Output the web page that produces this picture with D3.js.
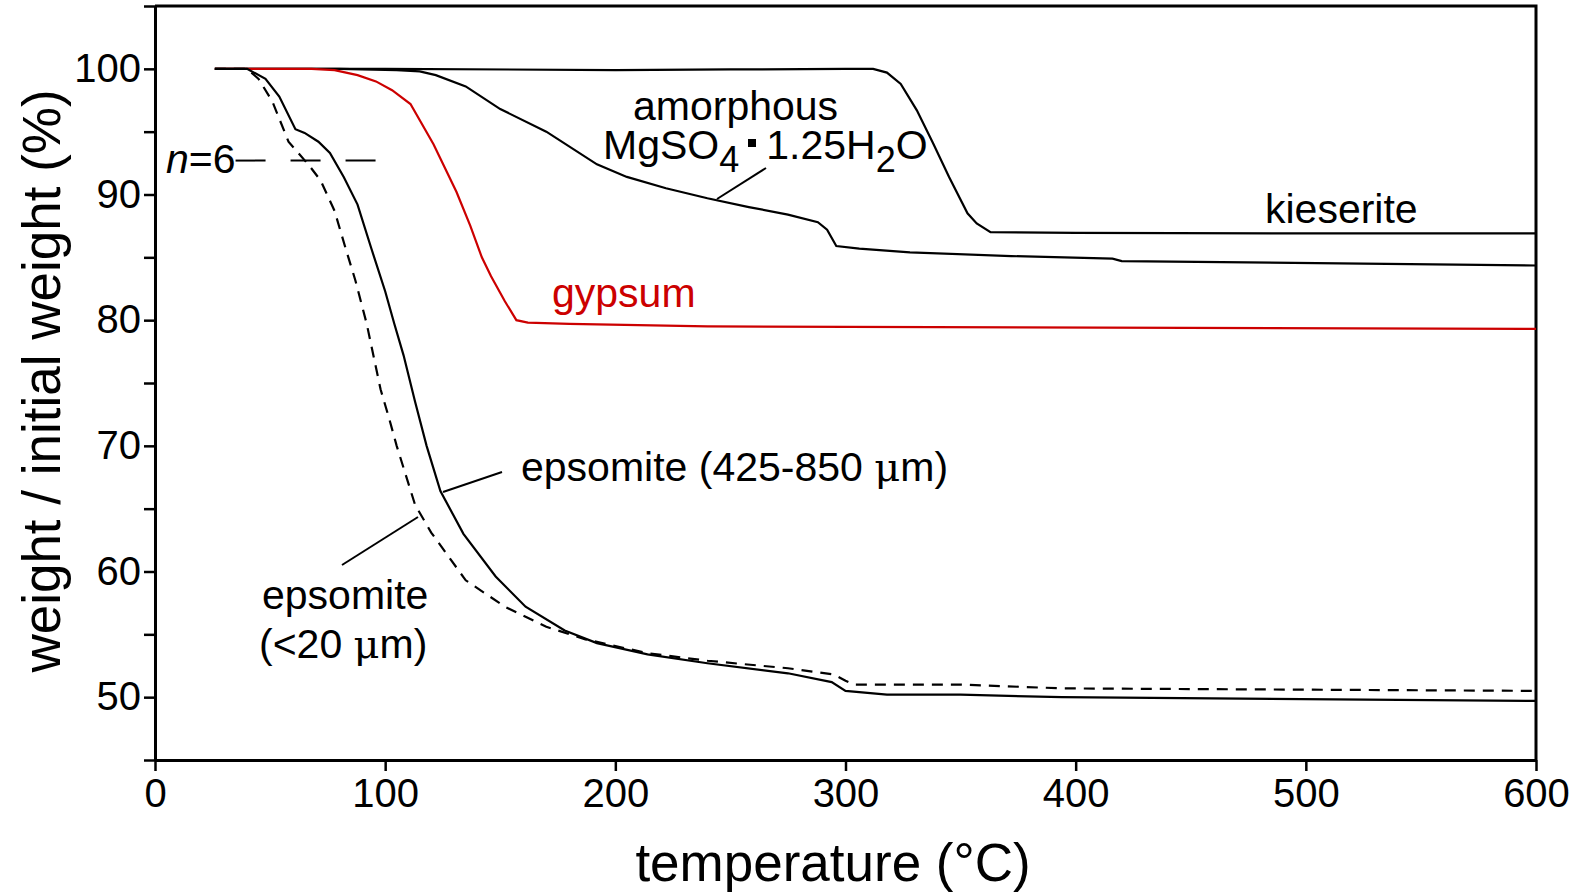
<!DOCTYPE html>
<html>
<head>
<meta charset="utf-8">
<script src="https://cdn.jsdelivr.net/npm/d3@7"></script>
<style>
  html, body { margin: 0; padding: 0; background: #fff; }
  svg { display: block; font-family: "Liberation Sans", Arial, sans-serif; }
</style>
</head>
<body>
<div id="chart"></div>
<script>
// Thermogravimetric curves, temperature (°C) vs weight / initial weight (%)
const kieseriteT = [26, 100, 200, 250, 300, 312, 318, 324, 331, 338, 345, 353, 357, 363, 400, 500, 600];
const kieseriteW = [100, 100, 99.9, 99.95, 100, 100, 99.7, 98.8, 96.7, 94.1, 91.4, 88.5, 87.7, 87.0, 86.95, 86.9, 86.9];

const amorphousT = [26, 80, 105, 115, 122, 135, 150, 170, 192, 205, 222, 240, 258, 275, 288, 292, 296, 306, 328, 372, 416, 420, 600];
const amorphousW = [100, 100, 99.9, 99.8, 99.5, 98.6, 96.8, 95, 92.4, 91.4, 90.5, 89.7, 89, 88.4, 87.8, 87.2, 85.9, 85.7, 85.4, 85.1, 84.9, 84.7, 84.35];

const gypsumT = [26, 68, 78, 88, 96, 103, 111, 121, 131, 137, 142, 146, 152, 157, 162, 180, 240, 600];
const gypsumW = [100, 100, 99.9, 99.5, 99, 98.3, 97.2, 94, 90.2, 87.5, 85, 83.5, 81.5, 80, 79.8, 79.7, 79.5, 79.3];

const epsomiteCoarseT = [26, 40, 48, 54, 61, 65, 71, 76, 82, 88, 94, 100, 104, 108, 113, 118, 124, 134, 148, 161, 178, 192, 214, 240, 275, 294, 300, 318, 350, 394, 600];
const epsomiteCoarseW = [100, 100, 99.2, 97.8, 95.2, 94.9, 94.2, 93.3, 91.4, 89.2, 85.7, 82.3, 79.7, 77.2, 73.5, 70, 66.4, 63, 59.6, 57.2, 55.3, 54.3, 53.4, 52.7, 51.9, 51.2, 50.5, 50.2, 50.2, 50, 49.7];

const epsomiteFineT = [26, 40, 45, 51, 58, 67, 72, 78, 83, 87, 92, 98, 102, 105, 113, 120, 135, 152, 170, 187, 214, 240, 275, 295, 300, 304, 320, 350, 394, 600];
const epsomiteFineW = [100, 100, 99.2, 97.4, 94.2, 92.3, 91.1, 88.7, 85.6, 83.2, 79.7, 74.5, 72, 70, 65.3, 63.1, 59.3, 57.2, 55.6, 54.6, 53.5, 52.9, 52.3, 51.8, 51.3, 51.0, 51.0, 51.0, 50.7, 50.5];

// hexahydrite level (n=6)
const hexahydriteT = [35, 96];
const hexahydriteW = 92.7;

const xTicks = [0, 100, 200, 300, 400, 500, 600];
const yTicks = [45, 50, 55, 60, 65, 70, 75, 80, 85, 90, 95, 100, 105];
const yLabels = [50, 60, 70, 80, 90, 100];

const width = 1585, height = 893;
const plot = { left: 155, right: 1536, top: 6, bottom: 760 };

const svg = d3.select('#chart')
    .append('svg')
    .attr('width', width)
    .attr('height', height);

const x = d3.scaleLinear().domain([0, 600]).range([plot.left, plot.right]);
const y = d3.scaleLinear().domain([45, 105]).range([plot.bottom, plot.top]);

const zip = (ts, ws) => ts.map((t, i) => [t, ws[i]]);
const line = d3.line().x(d => x(d[0])).y(d => y(d[1]));

// Axes
const xAxis = svg.append('g')
    .attr('transform', `translate(0,${plot.bottom})`)
    .call(d3.axisBottom(x).tickValues(xTicks).tickSize(11).tickPadding(8).tickSizeOuter(0));

const yAxis = svg.append('g')
    .attr('transform', `translate(${plot.left},0)`)
    .call(d3.axisLeft(y).tickValues(yTicks).tickSize(11).tickPadding(3).tickSizeOuter(0)
        .tickFormat(d => yLabels.includes(d) ? d : ''));

[xAxis, yAxis].forEach(a => {
    a.select('.domain').attr('stroke', '#000').attr('stroke-width', 3);
    a.selectAll('.tick line').attr('stroke', '#000').attr('stroke-width', 2.5);
    a.selectAll('.tick text')
        .attr('fill', '#000')
        .style('font-family', '"Liberation Sans", Arial, sans-serif')
        .style('font-size', '40px');
});

// Top and right frame
svg.append('path')
    .attr('d', `M${plot.left},${plot.top}H${plot.right}V${plot.bottom}`)
    .attr('fill', 'none')
    .attr('stroke', '#000')
    .attr('stroke-width', 3);

// Curves
const series = [
    { t: kieseriteT, w: kieseriteW, color: '#000', dash: null },
    { t: amorphousT, w: amorphousW, color: '#000', dash: null },
    { t: gypsumT, w: gypsumW, color: '#cc0000', dash: null },
    { t: epsomiteCoarseT, w: epsomiteCoarseW, color: '#000', dash: null },
    { t: epsomiteFineT, w: epsomiteFineW, color: '#000', dash: '11,8' }
];

svg.selectAll('.curve')
    .data(series)
    .join('path')
    .attr('class', 'curve')
    .attr('d', d => line(zip(d.t, d.w)))
    .attr('fill', 'none')
    .attr('stroke', d => d.color)
    .attr('stroke-width', 2.2)
    .attr('stroke-dasharray', d => d.dash);

// n=6 reference level
svg.append('path')
    .attr('d', line(hexahydriteT.map(t => [t, hexahydriteW])))
    .attr('fill', 'none')
    .attr('stroke', '#000')
    .attr('stroke-width', 2)
    .attr('stroke-dasharray', '30,25');

const n6 = svg.append('text')
    .attr('x', 166)
    .attr('y', 173)
    .style('font-size', '41px');
n6.append('tspan').style('font-style', 'italic').text('n');
n6.append('tspan').text('=6');

// Labels
const label = (tx, ty, color) => svg.append('text')
    .attr('x', tx)
    .attr('y', ty)
    .attr('fill', color || '#000')
    .style('font-size', '41px');

label(633, 120).text('amorphous');
label(1265, 223).text('kieserite');
label(552, 307, '#cc0000').text('gypsum');
label(262, 609).text('epsomite');

// the micro sign is set in a serif face, like the symbol font of the original
const mu = (t, before, after) => {
    t.append('tspan').text(before);
    t.append('tspan').style('font-family', '"DejaVu Serif", serif').style('font-size', '40px').text('\u03BC');
    t.append('tspan').text(after);
};
mu(label(521, 481), 'epsomite (425-850 ', 'm)');
mu(label(259, 658), '(<20 ', 'm)');

// MgSO4·1.25H2O with subscripts
const formula = svg.append('text')
    .attr('x', 603)
    .attr('y', 159)
    .style('font-size', '41px');
formula.append('tspan').text('MgSO');
formula.append('tspan').attr('dy', 13).style('font-size', '36px').text('4');
formula.append('tspan').attr('dy', -13).attr('dx', 27).text('1.25H');
formula.append('tspan').attr('dy', 13).style('font-size', '36px').text('2');
formula.append('tspan').attr('dy', -13).text('O');

svg.append('rect')
    .attr('x', 748)
    .attr('y', 139)
    .attr('width', 8)
    .attr('height', 8)
    .attr('fill', '#000');

// Leader lines
const leaders = [
    [[766, 168], [717, 199]],
    [[502, 472], [443, 492]],
    [[342, 565], [418, 517]]
];
svg.selectAll('.leader')
    .data(leaders)
    .join('line')
    .attr('class', 'leader')
    .attr('x1', d => d[0][0]).attr('y1', d => d[0][1])
    .attr('x2', d => d[1][0]).attr('y2', d => d[1][1])
    .attr('stroke', '#000')
    .attr('stroke-width', 2);

// Axis titles
svg.append('text')
    .attr('x', 833)
    .attr('y', 881)
    .attr('text-anchor', 'middle')
    .style('font-size', '53px')
    .text('temperature (\u00B0C)');

svg.append('text')
    .attr('transform', 'translate(60,381) rotate(-90)')
    .attr('text-anchor', 'middle')
    .style('font-size', '53px')
    .text('weight / initial weight (%)');
</script>
</body>
</html>
